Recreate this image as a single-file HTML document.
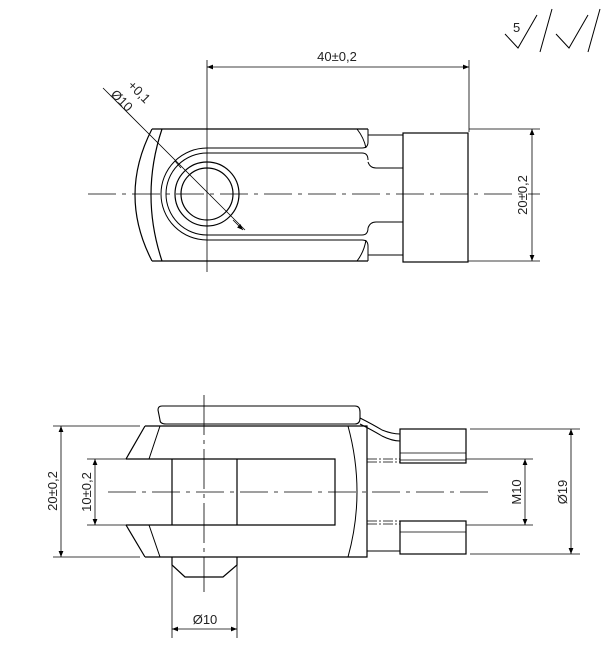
<!DOCTYPE html>
<html><head><style>body{margin:0;background:#fff}svg{display:block}text{font-family:"Liberation Sans",sans-serif;font-size:13px;fill:#222}</style></head><body>
<svg width="614" height="664" viewBox="0 0 614 664" xmlns="http://www.w3.org/2000/svg">
<defs><marker id="a" viewBox="0 0 10 10" refX="10" refY="5" markerWidth="10" markerHeight="6" orient="auto-start-reverse" markerUnits="userSpaceOnUse"><path d="M0,1 L10,5 L0,9z" fill="#000"/></marker></defs>
<g fill="none" stroke="#000" stroke-width="1.2">
<path d="M505,34 L518,48 L537,15 M540,52 L552,9 M556,34 L569,48 L588,15 M588,52 L600,9" stroke-width="1"/>
<!-- TOP VIEW -->
<path d="M152,129 L368,129 M152,261 L368,261 M152,129 Q118,195 152,261 M162,129 Q140,195 162,261" />
<path d="M207,148 L362,148 Q368,148 368,142 M207,153 L362,153 Q368,153 368,160 M207,240 L362,240 Q368,240 368,246 M207,235 L362,235 Q368,235 368,228" stroke-width="1"/>
<path d="M207,148 A46,46 0 0 0 207,240 M207,153 A41,41 0 0 0 207,235" stroke-width="1"/>
<circle cx="207" cy="194" r="32"/><circle cx="207" cy="194" r="26"/>
<path d="M357,129 Q364,138 366,148 M357,261 Q364,252 366,240" stroke-width="1"/>
<path d="M368,129 L368,142 M368,261 L368,246 M368,135 L403,135 M368,162 Q370,168 376,168 L403,168 M368,228 Q370,222 376,222 L403,222 M368,255 L403,255" stroke-width="1"/>
<rect x="403" y="133" width="65" height="129"/>
<g stroke-width="0.8">
<path d="M88,194 L540,194" stroke-dasharray="28,6,4,6"/>
<path d="M207,60 L207,272"/>
<path d="M469,60 L469,132 M469,129 L540,129 M468,261 L540,261"/>
<path d="M207,67 L469,67" marker-start="url(#a)" marker-end="url(#a)"/>
<path d="M532,129 L532,261" marker-start="url(#a)" marker-end="url(#a)"/>
<path d="M103,88 L245,230" />
<path d="M175,161 L181,168 M233,220 L243,230" marker-end="url(#a)"/>
</g>
<!-- BOTTOM VIEW -->
<path d="M162,406 L355,406 Q360,406 360,412 L360,418 Q360,424 355,424 L166,424 Q160,424 160,420 L158,410 Q158,406 162,406" stroke-width="1.1"/>
<path d="M360,418 Q372,424 382,430 Q392,434 400,434 M360,424 Q372,430 382,436 Q392,441 400,441" stroke-width="1"/>
<path d="M145,426 L367,426 L367,557 L145,557 M145,426 L126,459 M126,525 L145,557"/>
<path d="M160,426 L149,459 M149,525 L160,557 M348,426 Q366,492 348,557" stroke-width="1"/>
<path d="M126,459 L335,459 L335,525 L126,525 M172,459 L172,525 M237,459 L237,525"/>
<path d="M172,557 L172,565 L185,577 L223,577 L237,565 L237,557"/>
<path d="M367,551 L400,551" stroke-width="1"/>
<rect x="400" y="429" width="66" height="34"/><rect x="400" y="521" width="66" height="33"/>
<path d="M400,453 L466,453 M400,460 L466,460 M400,532 L466,532" stroke-width="0.8"/>
<g stroke-width="0.8">
<path d="M367,459 L400,459 M367,462 L400,462 M367,521 L400,521 M367,524 L400,524" stroke-dasharray="10,2,2,2"/>
<path d="M108,492 L493,492" stroke-dasharray="28,6,4,6"/>
<path d="M204,395 L204,592" stroke-dasharray="40,5,4,5"/>
<path d="M53,426 L140,426 M53,557 L140,557 M87,459 L126,459 M87,525 L126,525"/>
<path d="M61,426 L61,557" marker-start="url(#a)" marker-end="url(#a)"/>
<path d="M95,459 L95,525" marker-start="url(#a)" marker-end="url(#a)"/>
<path d="M172,565 L172,638 M237,565 L237,638"/>
<path d="M172,629 L237,629" marker-start="url(#a)" marker-end="url(#a)"/>
<path d="M466,459 L533,459 M466,525 L533,525 M470,429 L580,429 M470,554 L580,554"/>
<path d="M525,459 L525,525" marker-start="url(#a)" marker-end="url(#a)"/>
<path d="M571,429 L571,554" marker-start="url(#a)" marker-end="url(#a)"/>
</g>
</g>
<text x="513" y="32" font-size="12">5</text>
<text x="337" y="61" text-anchor="middle">40±0,2</text>
<text transform="translate(527,195) rotate(-90)" text-anchor="middle">20±0,2</text>
<text transform="translate(110,95) rotate(45)" font-size="12">Ø10</text>
<text transform="translate(127,86) rotate(45)" font-size="10">+0,1</text>
<text transform="translate(57,491) rotate(-90)" text-anchor="middle">20±0,2</text>
<text transform="translate(91,492) rotate(-90)" text-anchor="middle">10±0,2</text>
<text x="205" y="624" text-anchor="middle">Ø10</text>
<text transform="translate(521,492) rotate(-90)" text-anchor="middle" font-size="11">M10</text>
<text transform="translate(567,492) rotate(-90)" text-anchor="middle">Ø19</text>
</svg>
</body></html>
